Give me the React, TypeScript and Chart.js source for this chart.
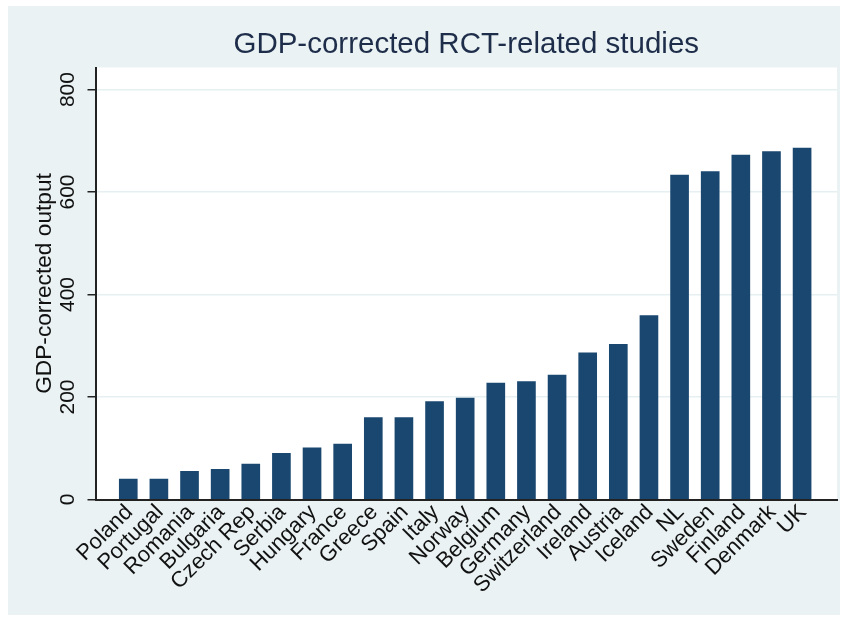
import React, { useEffect, useRef } from 'react';
import { Chart, registerables } from 'chart.js';

Chart.register(...registerables);

const countries = [
  'Poland', 'Portugal', 'Romania', 'Bulgaria', 'Czech Rep', 'Serbia', 'Hungary', 'France',
  'Greece', 'Spain', 'Italy', 'Norway', 'Belgium', 'Germany', 'Switzerland', 'Ireland',
  'Austria', 'Iceland', 'NL', 'Sweden', 'Finland', 'Denmark', 'UK',
];
const gdpOutput = [
  40, 40, 55, 59, 69, 90, 101, 108,
  160, 160, 191, 198, 227, 230, 243, 286,
  303, 359, 633, 640, 672, 679, 686,
];
const yTicks = [0, 200, 400, 600, 800];
const chartTitle = 'GDP-corrected RCT-related studies';
const yTitle = 'GDP-corrected output';

const FONT = '"Liberation Sans", Arial, sans-serif';

const bgPlugin = {
  id: 'stataBg',
  beforeDraw(chart: any) {
    const { ctx, chartArea: a, width, height } = chart;
    ctx.save();
    ctx.fillStyle = '#eaf2f3';
    ctx.fillRect(0, 0, width, height);
    ctx.fillStyle = '#ffffff';
    ctx.fillRect(a.left, a.top, a.right - a.left, a.bottom - a.top);
    ctx.restore();
  },
};

export default function App() {
  const ref = useRef<HTMLCanvasElement | null>(null);

  useEffect(() => {
    if (!ref.current) return;
    const points = countries.map((c, i) => ({ x: i, y: gdpOutput[i] }));
    const chart = new Chart(ref.current, {
      type: 'bar',
      data: {
        datasets: [
          {
            label: yTitle,
            data: points as any,
            backgroundColor: '#1a476f',
            borderWidth: 0,
            barThickness: 18,
          },
        ],
      },
      plugins: [bgPlugin],
      options: {
        responsive: false,
        animation: false,
        layout: { padding: { left: 18.8, right: 3, top: 0, bottom: 0 } },
        plugins: {
          legend: { display: false },
          tooltip: { enabled: false },
          title: {
            display: true,
            fullSize: false,
            text: chartTitle,
            color: '#1e2d4a',
            font: { family: FONT, size: 29.5, weight: 'normal' },
            padding: { top: 21.3, bottom: 4.8 },
          },
        },
        scales: {
          x: {
            type: 'linear',
            offset: false,
            min: -1.07,
            max: 23.14,
            afterBuildTicks: (s: any) => {
              s.ticks = countries.map((_, i) => ({ value: i }));
            },
            afterFit: (s: any) => {
              s.height = 115.5;
            },
            grid: { display: false, drawTicks: false, offset: false },
            border: { display: true, color: '#222222', width: 2, z: 1 },
            ticks: {
              autoSkip: false,
              minRotation: 45,
              maxRotation: 45,
              padding: 0,
              labelOffset: 1,
              color: '#111111',
              font: { family: FONT, size: 22 },
              callback: (v: any) => countries[v as number] ?? '',
            },
          },
          y: {
            min: 0,
            max: 843,
            afterBuildTicks: (s: any) => {
              s.ticks = yTicks.map((v) => ({ value: v }));
            },
            afterFit: (s: any) => {
              s.width = 68.7;
            },
            grid: { color: '#e6eff1', lineWidth: 1.5, tickColor: '#222222', tickLength: 8, tickWidth: 1.5 },
            border: { display: true, color: '#222222', width: 2 },
            ticks: {
              minRotation: 90,
              maxRotation: 90,
              crossAlign: 'center',
              padding: 2,
              color: '#111111',
              font: { family: FONT, size: 21 },
            },
            title: {
              display: true,
              text: yTitle,
              color: '#111111',
              font: { family: FONT, size: 22.7 },
              padding: { top: 4, bottom: 0 },
            },
          },
        },
      },
    } as any);
    return () => chart.destroy();
  }, []);

  return (
    <div style={{ position: 'absolute', left: 8, top: 6, width: 832, height: 609 }}>
      <canvas ref={ref} width={832} height={609} style={{ display: 'block', width: 832, height: 609 }} />
    </div>
  );
}
